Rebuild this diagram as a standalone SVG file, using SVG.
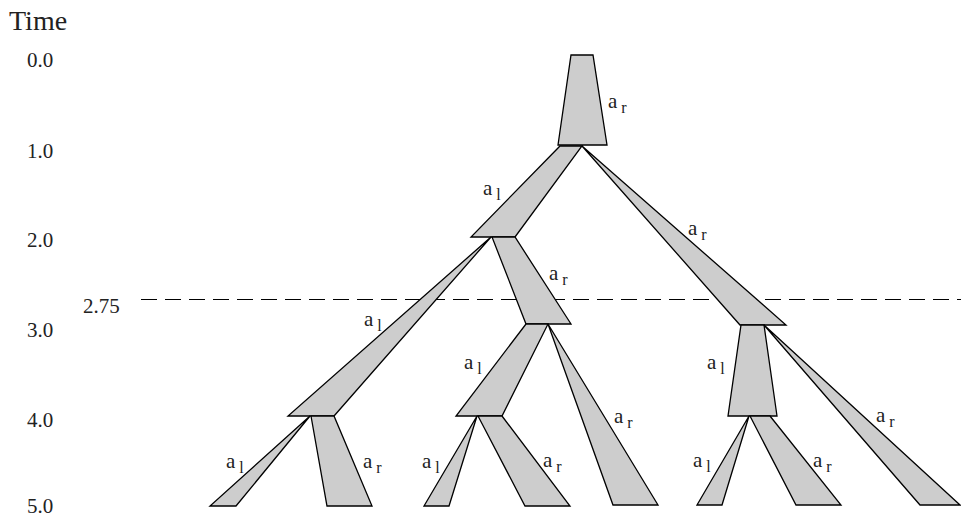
<svg xmlns="http://www.w3.org/2000/svg" width="961" height="521" viewBox="0 0 961 521">
<style>
.b{fill:#cdcdcd;stroke:#000;stroke-width:1.3;stroke-linejoin:miter}
text{font-family:'Liberation Serif','Times New Roman',Tinos,'DejaVu Serif',serif;fill:#222}
.ax{font-size:21px}
.lb{font-size:21px}
.sb{font-size:16px}
.dash{stroke:#000;stroke-width:1;stroke-dasharray:16 8;fill:none}
</style>
<rect width="961" height="521" fill="#fff"/>
<g id="axis">
<text x="9" y="30" font-size="28">Time</text>
<text class="ax" x="27" y="67">0.0</text>
<text class="ax" x="27" y="158">1.0</text>
<text class="ax" x="27" y="247">2.0</text>
<text class="ax" x="27" y="337">3.0</text>
<text class="ax" x="27" y="427">4.0</text>
<text class="ax" x="27" y="513">5.0</text>
<text class="ax" x="83" y="313">2.75</text>
</g>
<g id="connectors">
<line class="dash" x1="141" y1="299.5" x2="961" y2="299.5"/>
</g>
<g id="root">
<polygon class="b" points="571,55 593,55 607,145 558,145"/>
<text class="lb" x="608" y="108">a<tspan class="sb" dx="4" dy="5">r</tspan></text>
</g>
<g id="n1L">
<polygon class="b" points="560,146 582,146 515,237 471,237"/>
<text class="lb" x="483" y="195">a<tspan class="sb" dx="4" dy="5">l</tspan></text>
</g>
<g id="n1R">
<polygon class="b" points="582,146 786,325 740,325"/>
<text class="lb" x="688" y="235">a<tspan class="sb" dx="4" dy="5">r</tspan></text>
</g>
<g id="n2L">
<polygon class="b" points="491,237 334,416 288,416"/>
<text class="lb" x="364" y="326">a<tspan class="sb" dx="4" dy="5">l</tspan></text>
</g>
<g id="n2R">
<polygon class="b" points="492,237 515,237 571,324 526,324"/>
<text class="lb" x="549" y="280">a<tspan class="sb" dx="4" dy="5">r</tspan></text>
</g>
<g id="n3ML">
<polygon class="b" points="526,324 548,324 502,416 456,416"/>
<text class="lb" x="464" y="369">a<tspan class="sb" dx="4" dy="5">l</tspan></text>
</g>
<g id="n3MR">
<polygon class="b" points="548,324 658,505 613,505"/>
<text class="lb" x="614" y="423">a<tspan class="sb" dx="4" dy="5">r</tspan></text>
</g>
<g id="n3RL">
<polygon class="b" points="741,325 764,325 777,416 728,416"/>
<text class="lb" x="707" y="369">a<tspan class="sb" dx="4" dy="5">l</tspan></text>
</g>
<g id="n3RR">
<polygon class="b" points="764,325 960,505 920,505"/>
<text class="lb" x="876" y="422">a<tspan class="sb" dx="4" dy="5">r</tspan></text>
</g>
<g id="n4LL">
<polygon class="b" points="310,416 236,506 210,506"/>
<text class="lb" x="226" y="468">a<tspan class="sb" dx="4" dy="5">l</tspan></text>
</g>
<g id="n4LR">
<polygon class="b" points="311,416 334,416 372,506 327,506"/>
<text class="lb" x="363" y="468">a<tspan class="sb" dx="4" dy="5">r</tspan></text>
</g>
<g id="n4ML">
<polygon class="b" points="477,416 449,506 424,506"/>
<text class="lb" x="422" y="468">a<tspan class="sb" dx="4" dy="5">l</tspan></text>
</g>
<g id="n4MR">
<polygon class="b" points="478,416 502,416 570,506 525,506"/>
<text class="lb" x="543" y="467">a<tspan class="sb" dx="4" dy="5">r</tspan></text>
</g>
<g id="n4RL">
<polygon class="b" points="749,416 722,505 697,505"/>
<text class="lb" x="693" y="467">a<tspan class="sb" dx="4" dy="5">l</tspan></text>
</g>
<g id="n4RR">
<polygon class="b" points="750,416 770,416 841,505 796,505"/>
<text class="lb" x="813" y="467">a<tspan class="sb" dx="4" dy="5">r</tspan></text>
</g>
</svg>
